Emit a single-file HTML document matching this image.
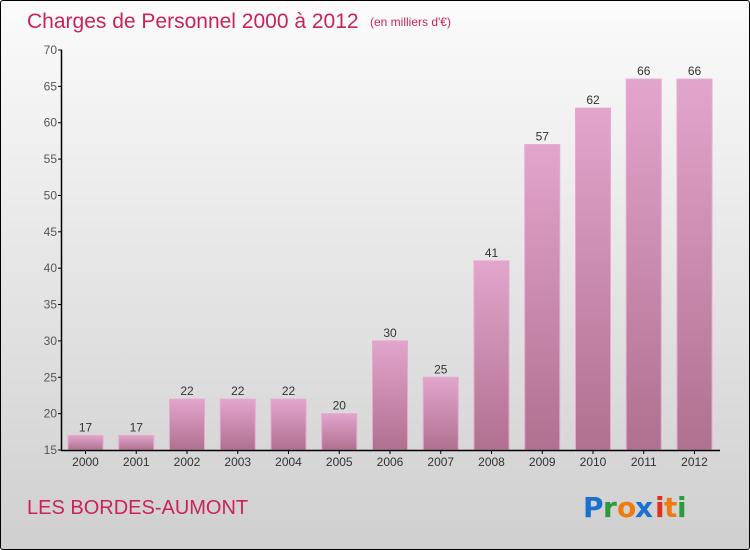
<!DOCTYPE html>
<html><head><meta charset="utf-8"><style>
html,body{margin:0;padding:0;}
body{width:750px;height:550px;overflow:hidden;font-family:"Liberation Sans",sans-serif;}
#wrap{position:absolute;left:0;top:0;width:748px;height:548px;border:1px solid #000;border-radius:3px;background:linear-gradient(#fbfbfb,#cfcfcf);}
</style></head><body>
<div id="wrap">
<svg id="chart" width="750" height="550" style="position:absolute;left:-1px;top:-1px">
<defs>
<linearGradient id="bg" x1="0" y1="0" x2="0" y2="1"><stop offset="0" stop-color="#e2a5cc"/><stop offset="1" stop-color="#b0708f"/></linearGradient>
</defs>
<text x="27" y="28" font-size="21" fill="#c8245a">Charges de Personnel 2000 à 2012</text>
<text x="370" y="26" font-size="12" fill="#c8245a">(en milliers d'€)</text>
<text x="27" y="514" font-size="20" fill="#c8245a">LES BORDES-AUMONT</text>
<g font-size="28" font-weight="bold" font-family="'DejaVu Sans',sans-serif">
<text x="583" y="517" fill="#1a6fd0">P</text><text x="603" y="517" fill="#2a9a3a">r</text><text x="617" y="517" fill="#f07a10">o</text><text x="635" y="517" fill="#1a6fd0">x</text><text x="655" y="517" fill="#e03020">i</text><text x="664" y="517" fill="#f07a10">t</text><text x="677" y="517" fill="#2a9a3a">i</text>
</g>
<g id="plot"></g>
</svg>
</div>
<script>
const categories=["2000","2001","2002","2003","2004","2005","2006","2007","2008","2009","2010","2011","2012"];
const values=[17,17,22,22,22,20,30,25,41,57,62,66,66];
const yTicks=[15,20,25,30,35,40,45,50,55,60,65,70];
const NS="http://www.w3.org/2000/svg";
const g=document.getElementById('plot');
const y0=450,y1=50,vmin=15,vmax=70;
function y(v){return y0-(v-vmin)/(vmax-vmin)*(y0-y1);}
function xc(i){return 85.5+i*50.75;}
function el(t,a){const e=document.createElementNS(NS,t);for(const k in a)e.setAttribute(k,a[k]);g.appendChild(e);return e;}
categories.forEach((c,i)=>{
 const v=values[i];
 const r=el('rect',{x:xc(i)-17.5,y:y(v),width:35,height:y0-y(v),fill:'url(#bg)',stroke:'#e8a8d0','stroke-width':1});
 
 
 const t=el('text',{x:xc(i),y:y(v)-4,'text-anchor':'middle','font-size':12,fill:'#333'});t.textContent=v;
 
 
 const l=el('text',{x:xc(i),y:466,'text-anchor':'middle','font-size':12,fill:'#333'});l.textContent=c;
 
 
 el('line',{x1:xc(i),x2:xc(i),y1:y0,y2:y0+4,stroke:'#000'});
});
yTicks.forEach(v=>{
 el('line',{x1:58,x2:62,y1:y(v),y2:y(v),stroke:'#000'});
 const t=el('text',{x:57,y:y(v)+4,'text-anchor':'end','font-size':12,fill:'#555'});t.textContent=v;
 
 
});
const ya=el('line',{x1:61.5,x2:61.5,y1:y1,y2:y0,stroke:'#000','stroke-width':1.5});


const xa=el('line',{x1:61,x2:720,y1:y0+0.5,y2:y0+0.5,stroke:'#000','stroke-width':1.5});


</script>
</body></html>
